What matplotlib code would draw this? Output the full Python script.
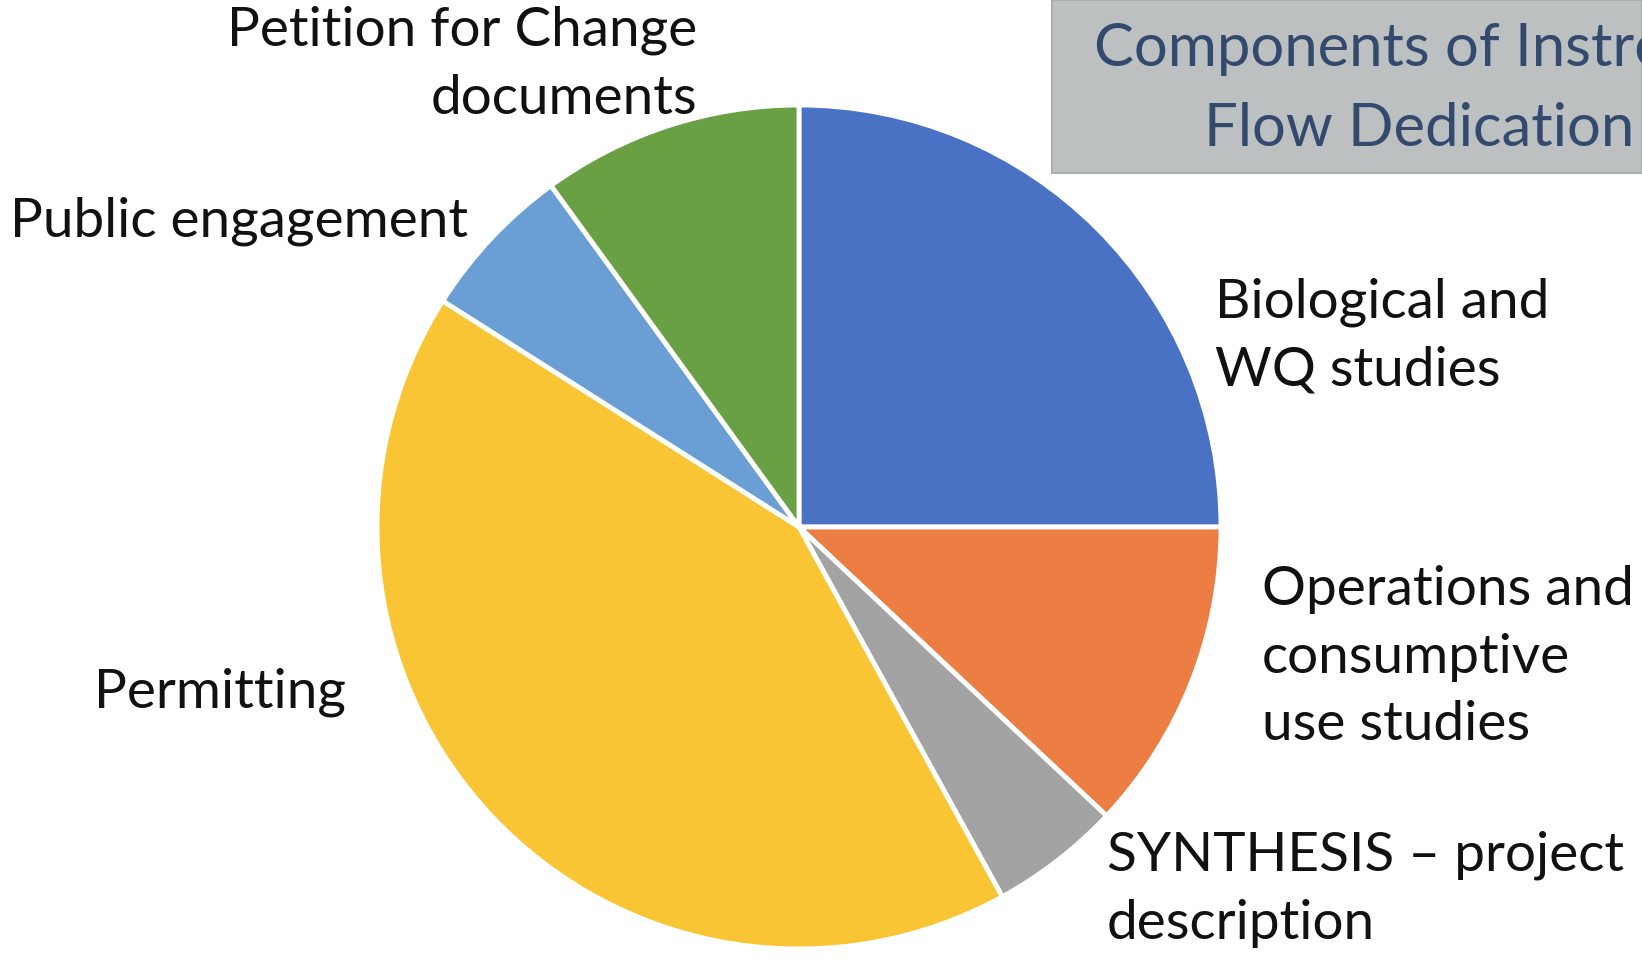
import numpy as np
import matplotlib
matplotlib.use('Agg')
from matplotlib import pyplot as plt
from matplotlib.patches import Rectangle

# shares of effort, clockwise from 12 o'clock
categories = ['Biological and\nWQ studies',
              'Operations and\nconsumptive\nuse studies',
              'SYNTHESIS \u2013 project\ndescription',
              'Permitting',
              'Public engagement',
              'Petition for Change\ndocuments']
values = [25, 12, 5, 42, 6, 10]
colors = ['#4a72c4', '#ec7e44', '#a3a3a3', '#f9c535', '#6a9fd6', '#6aa044']
title = 'Components of Instream\nFlow Dedication'

# label placement in pixels (x, y, ha)
label_pos = [(1215, 336, 'left'),
             (1262, 657, 'left'),
             (1107, 889, 'left'),
             (94, 692, 'left'),
             (10, 221, 'left'),
             (697, 64, 'right')]

W, H = 1642, 960
fig = plt.figure(figsize=(W / 100, H / 100), dpi=100)
fig.patch.set_facecolor('white')

cx, cy, r = 799, 527, 422
ax = fig.add_axes([(cx - r) / W, (H - cy - r) / H, 2 * r / W, 2 * r / H])
ax.pie(values, colors=colors, startangle=90, counterclock=False,
       wedgeprops=dict(edgecolor='white', linewidth=3.5))
ax.set_xlim(-1, 1)
ax.set_ylim(-1, 1)
ax.set_aspect('equal')
ax.axis('off')

# overlay in pixel coordinates for text and title box
ov = fig.add_axes([0, 0, 1, 1], zorder=5)
ov.set_xlim(0, W)
ov.set_ylim(H, 0)
ov.axis('off')
ov.patch.set_alpha(0)

for lab, (x, y, ha) in zip(categories, label_pos):
    ov.text(x, y, lab, ha=ha, va='center', ma=ha, fontsize=39.5,
            family='Lato', color='#111111', linespacing=1.47)

ov.add_patch(Rectangle((1052, 0), W - 1052, 173, facecolor='#bcc0c0',
                       edgecolor='#a9aeae', linewidth=1.5))
ov.text(1419, 89, title, ha='center', va='center', ma='center', fontsize=43,
        family='Lato', color='#34496e', linespacing=1.6)

fig.savefig('out.png', dpi=100)
